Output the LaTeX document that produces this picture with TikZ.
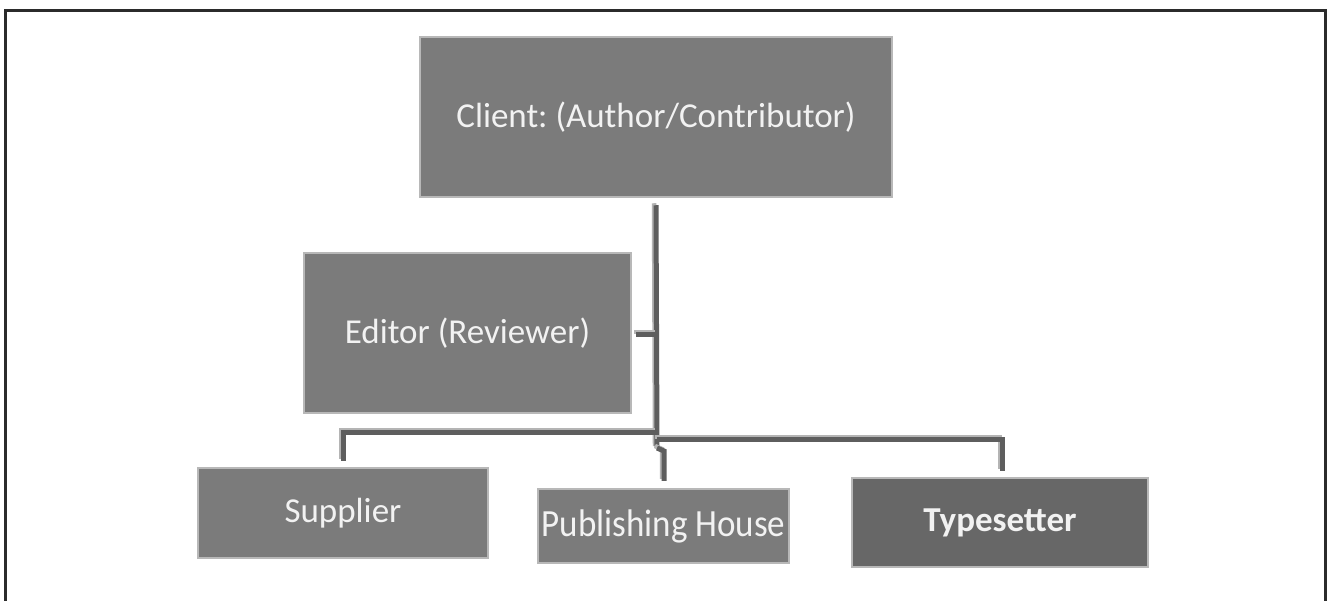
\documentclass[tikz,border=0pt]{standalone}
\usepackage{fontspec}
\setmainfont{Carlito}
\frenchspacing
\definecolor{boxfill}{HTML}{7B7B7B}
\definecolor{boxfilldark}{HTML}{676767}
\definecolor{boxedge}{HTML}{B8B8B8}
\definecolor{conndark}{HTML}{5E5E5E}
\definecolor{connlight}{HTML}{B4B4B4}
\definecolor{framecol}{HTML}{2B2B2B}
\definecolor{txt}{HTML}{F2F2F2}
\tikzset{
  orgbox/.style={draw=boxedge, line width=2.5pt, fill=boxfill, inner sep=0pt,
    text=txt, font=\fontsize{35}{40}\selectfont},
  conn/.style={draw=conndark, line width=5pt,
    preaction={draw=connlight, line width=4.5pt, transform canvas={xshift=-2pt, yshift=2pt}}},
}
\begin{document}
\begin{tikzpicture}[x=1pt,y=-1pt]
\useasboundingbox (0,0) rectangle (1329,601);
\clip (0,0) rectangle (1329,601);
\fill[white] (0,0) rectangle (1329,601);
\draw[framecol, line width=3pt] (5,11) rectangle (1325,640);

\node[orgbox, minimum width=472pt, minimum height=160pt] (client) at (656,117) {\raisebox{-3pt}{Client: (Author/Contributor)}};
\node[orgbox, minimum width=327pt, minimum height=160pt] (editor) at (467.5,333) {Editor (Reviewer)};
\node[orgbox, minimum width=290pt, minimum height=90pt] (supplier) at (343,513) {Supplier};
\node[orgbox, minimum width=251pt, minimum height=74pt] (pub) at (663.5,526) {\scalebox{1}[1.1]{Publishing House}};
\node[orgbox, fill=boxfilldark, minimum width=296pt, minimum height=89pt, font=\fontsize{35}{40}\selectfont\bfseries] (type) at (1000,522.5) {Typesetter};

\coordinate (jsup) at (657,432);
\coordinate (jtype) at (657,439);
\coordinate (jbend) at (657,448);
\coordinate (jpub) at (664,451);
\coordinate (jed) at (657,334);

\path[conn] ([yshift=-7pt]client.south) -- (jbend);
\path[conn] ([xshift=4pt,yshift=-1pt]editor.east) -- (jed);
\path[conn] (jsup) -| ([yshift=6pt]supplier.north);
\path[conn] (jtype) -| ([xshift=2pt,yshift=6pt]type.north);
\path[conn] (jbend) -- (jpub) -- ([xshift=0.5pt,yshift=7pt]pub.north);
\end{tikzpicture}
\end{document}
